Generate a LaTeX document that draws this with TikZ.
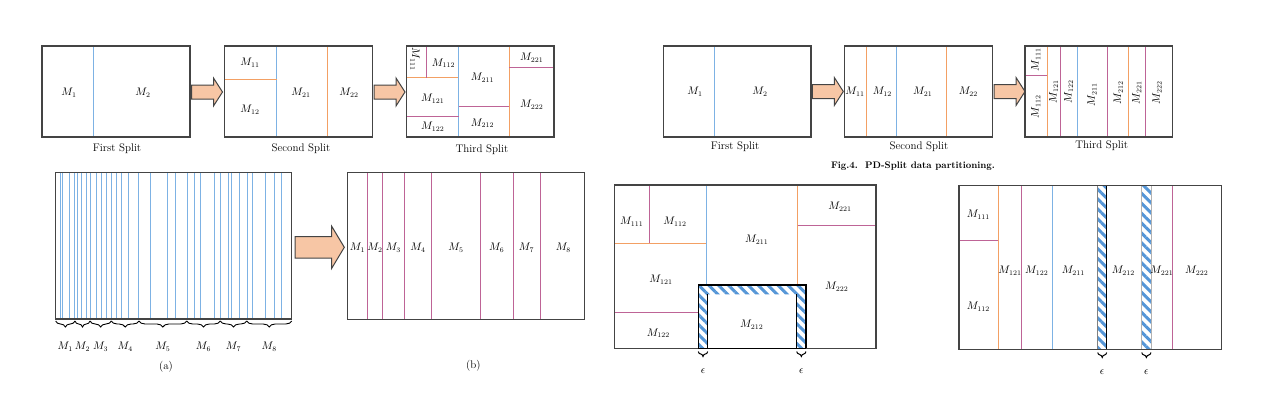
\documentclass[tikz,border=0pt]{standalone}
\usetikzlibrary{decorations.pathreplacing,patterns.meta}
\definecolor{cBlue}{RGB}{125,178,228}
\definecolor{cOrange}{RGB}{243,160,100}
\definecolor{cPink}{RGB}{190,100,150}
\definecolor{cArrow}{RGB}{247,198,165}
\definecolor{cBorder}{RGB}{68,68,68}
\definecolor{cHatch}{RGB}{85,150,215}
\tikzset{
 frame/.style={draw=cBorder, line width=1.2pt, inner sep=0pt, outer sep=0pt},
 bl/.style={draw=cBlue, line width=1pt},
 ol/.style={draw=cOrange, line width=1pt},
 pl/.style={draw=cPink, line width=1pt},
 lab/.style={inner sep=0pt, font=\fontsize{10.5}{12}\selectfont},
 splitcap/.style={inner sep=0pt, font=\fontsize{11}{13}\selectfont},
 blockarrow/.pic={\draw[fill=cArrow, draw=cBorder, line width=1pt] (0,-7)--(22,-7)--(22,-14)--(31,0)--(22,14)--(22,7)--(0,7)--cycle;},
 bigarrow/.pic={\draw[fill=cArrow, draw=cBorder, line width=1pt] (0,-10.8)--(36.7,-10.8)--(36.7,-21)--(49.3,0)--(36.7,21)--(36.7,10.8)--(0,10.8)--cycle;},
 brc/.style={decorate, decoration={brace, mirror, amplitude=6pt}, draw=black, line width=0.9pt},
 ebrc/.style={decorate, decoration={brace, mirror, amplitude=5pt}, draw=black, line width=1pt},
 hatch/.style={pattern={Lines[angle=-45,distance=7pt,line width=3pt]}, pattern color=cHatch}
}
\begin{document}
\begin{tikzpicture}[x=1pt,y=-1pt]
\useasboundingbox[fill=white] (0,0) rectangle (1281,418);

% ================= TOP LEFT =================
\draw[bl] (93.5,46) -- (93.5,137);
\node[frame, minimum width=148pt, minimum height=91pt] (tl1) at (116,91.5) {};
\node[lab] (tl1a) at (69,93) {$M_1$};
\node[lab] (tl1b) at (143,93) {$M_2$};
\node[splitcap] (tl1c) at (117,149) {First Split};
\pic at (191.5,92) {blockarrow};
\draw[bl] (276.5,46) -- (276.5,137);
\draw[ol] (327,46) -- (327,137);
\draw[ol] (224.5,79) -- (276.5,79);
\node[frame, minimum width=148pt, minimum height=91pt] (tl2) at (298.5,91.5) {};
\node[lab] (tl2a) at (250,63) {$M_{11}$};
\node[lab] (tl2b) at (250,110) {$M_{12}$};
\node[lab] (tl2c) at (301,93) {$M_{21}$};
\node[lab] (tl2d) at (349,93) {$M_{22}$};
\node[splitcap] (tl2e) at (301,149) {Second Split};
\pic at (374,92) {blockarrow};
\draw[ol] (406.5,77.7) -- (458.7,77.7);
\draw[pl] (426.7,46) -- (426.7,77.7);
\draw[bl] (458.7,46) -- (458.7,137);
\draw[pl] (406.5,116.3) -- (458.7,116.3);
\draw[pl] (458.7,106) -- (509.3,106);
\draw[ol] (509.3,46) -- (509.3,137);
\draw[pl] (509.3,67.7) -- (554,67.7);
\node[frame, minimum width=147.5pt, minimum height=91pt] (tl3) at (480.25,91.5) {};
\node[lab, rotate=-90] (tl3a) at (415,59) {$M_{111}$};
\node[lab] (tl3b) at (443.5,63.3) {$M_{112}$};
\node[lab] (tl3c) at (482.5,77.7) {$M_{211}$};
\node[lab] (tl3d) at (531.7,57.7) {$M_{221}$};
\node[lab] (tl3e) at (432.7,99) {$M_{121}$};
\node[lab] (tl3f) at (531.7,105) {$M_{222}$};
\node[lab] (tl3g) at (482.5,123.3) {$M_{212}$};
\node[lab] (tl3h) at (432.7,127) {$M_{122}$};
\node[splitcap] (tl3i) at (482,150) {Third Split};

% ================= TOP RIGHT =================
\draw[bl] (714.5,46) -- (714.5,137);
\node[frame, minimum width=147.5pt, minimum height=91pt] (tr1) at (737.25,91.5) {};
\node[lab] (tr1a) at (695,92) {$M_1$};
\node[lab] (tr1b) at (760,92) {$M_2$};
\node[splitcap] (tr1c) at (735,147) {First Split};
\pic at (812.3,91.5) {blockarrow};
\draw[ol] (866,46) -- (866,137);
\draw[bl] (896,46) -- (896,137);
\draw[ol] (946.7,46) -- (946.7,137);
\node[frame, minimum width=147.6pt, minimum height=91pt] (tr2) at (918.5,91.5) {};
\node[lab] (tr2a) at (855,92) {$M_{11}$};
\node[lab] (tr2b) at (882.3,92) {$M_{12}$};
\node[lab] (tr2c) at (922.7,92) {$M_{21}$};
\node[lab] (tr2d) at (968.3,92) {$M_{22}$};
\node[splitcap] (tr2e) at (919,147) {Second Split};
\pic at (994,91.5) {blockarrow};
\draw[pl] (1025,75.3) -- (1047.3,75.3);
\draw[ol] (1047.3,46) -- (1047.3,137);
\draw[pl] (1060,46) -- (1060,137);
\draw[bl] (1077.7,46) -- (1077.7,137);
\draw[pl] (1107.3,46) -- (1107.3,137);
\draw[ol] (1128.3,46) -- (1128.3,137);
\draw[pl] (1145,46) -- (1145,137);
\node[frame, minimum width=147.7pt, minimum height=91pt] (tr3) at (1098.85,91.5) {};
\node[lab, rotate=90] (tr3a) at (1035.7,60) {$M_{111}$};
\node[lab, rotate=90] (tr3b) at (1035.7,107) {$M_{112}$};
\node[lab, rotate=90] (tr3c) at (1053.6,92) {$M_{121}$};
\node[lab, rotate=90] (tr3d) at (1068.6,92) {$M_{122}$};
\node[lab, rotate=90] (tr3e) at (1092,95) {$M_{211}$};
\node[lab, rotate=90] (tr3f) at (1118.3,93) {$M_{212}$};
\node[lab, rotate=90] (tr3g) at (1136.7,93) {$M_{221}$};
\node[lab, rotate=90] (tr3h) at (1157,93) {$M_{222}$};
\node[splitcap] (tr3i) at (1101.7,146) {Third Split};
\node[inner sep=0pt, font=\fontsize{9.5}{11}\selectfont\bfseries] (fig4) at (913,166) {Fig.4.\ \ PD-Split data partitioning.};

% ================= BOTTOM LEFT (a) =================
\foreach \x in {60,62.5,69.3,74.3,77.3,81,86,90.3,96.3,101.7,106.7,111.7,116.7,121.7,128,138.7,150,167.3,175.7,187.3,194,200.7,214,220.7,228.7,231.3,239.3,247,252.3,265,274.3,281.7}
  \draw[bl] (\x,172.3) -- (\x,319);
\node[frame, minimum width=236pt, minimum height=146.7pt] (pa) at (173.7,245.65) {};
\draw[brc] (55.7,321) -- (75,321);
\draw[brc] (75,321) -- (90,321);
\draw[brc] (90,321) -- (111.3,321);
\draw[brc] (111.3,321) -- (139,321);
\draw[brc] (139,321) -- (186.7,321);
\draw[brc] (186.7,321) -- (220.3,321);
\draw[brc] (220.3,321) -- (246.7,321);
\draw[brc] (246.7,321) -- (291.7,321);
\node[lab] (pa1) at (65.3,347) {$M_1$};
\node[lab] (pa2) at (82.5,347) {$M_2$};
\node[lab] (pa3) at (100.6,347) {$M_3$};
\node[lab] (pa4) at (125.2,347) {$M_4$};
\node[lab] (pa5) at (162.9,347) {$M_5$};
\node[lab] (pa6) at (203.5,347) {$M_6$};
\node[lab] (pa7) at (233.5,347) {$M_7$};
\node[lab] (pa8) at (269.2,347) {$M_8$};
\node[splitcap] (pacap) at (166,367) {(a)};
\pic at (295,247.3) {bigarrow};

% ================= (b) =================
\foreach \x in {367,382.7,404.3,431.7,480,513,540}
  \draw[pl] (\x,172.3) -- (\x,319.3);
\node[frame, minimum width=237pt, minimum height=147pt] (pb) at (465.8,245.8) {};
\node[lab] (pb1) at (357.5,248) {$M_1$};
\node[lab] (pb2) at (375,248) {$M_2$};
\node[lab] (pb3) at (393.3,248) {$M_3$};
\node[lab] (pb4) at (418,248) {$M_4$};
\node[lab] (pb5) at (456,248) {$M_5$};
\node[lab] (pb6) at (496.7,248) {$M_6$};
\node[lab] (pb7) at (526.5,248) {$M_7$};
\node[lab] (pb8) at (563.3,248) {$M_8$};
\node[splitcap] (pbcap) at (473.3,366) {(b)};

% ================= BOTTOM MIDDLE =================
\draw[pl] (649.3,185) -- (649.3,243.3);
\draw[ol] (614.3,243.3) -- (706.7,243.3);
\draw[bl] (706.7,185) -- (706.7,285);
\draw[pl] (614.3,312.3) -- (698.3,312.3);
\draw[ol] (797.7,185) -- (797.7,285);
\draw[pl] (797.7,225.7) -- (876,225.7);
\fill[hatch] (698.3,348.3) -- (698.3,285) -- (806,285) -- (806,348.3) -- (796.7,348.3) -- (796.7,294.3) -- (707.7,294.3) -- (707.7,348.3) -- cycle;
\node[frame, minimum width=261.7pt, minimum height=163.3pt] (pc) at (745.15,266.65) {};
\draw[black, line width=1.2pt] (698.3,348.3) -- (698.3,285) -- (806,285) -- (806,348.3);
\draw[black, line width=1.2pt] (707.7,294.3) -- (707.7,348.3);
\draw[black, line width=1.2pt] (796.7,294.3) -- (796.7,348.3);
\draw[black, line width=1.6pt] (698.3,348.3) -- (806,348.3);
\node[lab] (pc1) at (631.7,221.7) {$M_{111}$};
\node[lab] (pc2) at (675,221.7) {$M_{112}$};
\node[lab] (pc3) at (756.7,240) {$M_{211}$};
\node[lab] (pc4) at (840,206.7) {$M_{221}$};
\node[lab] (pc5) at (661,280) {$M_{121}$};
\node[lab] (pc6) at (836.7,286.7) {$M_{222}$};
\node[lab] (pc7) at (751.7,325) {$M_{212}$};
\node[lab] (pc8) at (658.3,333.3) {$M_{122}$};
\draw[ebrc] (698.3,351.5) -- (707.7,351.5);
\draw[ebrc] (796.7,351.5) -- (806,351.5);
\node[lab] (pce1) at (703,371) {$\epsilon$};
\node[lab] (pce2) at (801.3,371) {$\epsilon$};

% ================= BOTTOM RIGHT =================
\draw[pl] (959,240) -- (998.3,240);
\draw[ol] (998.3,185.7) -- (998.3,349.3);
\draw[pl] (1021,185.7) -- (1021,349.3);
\draw[bl] (1052,185.7) -- (1052,349.3);
\draw[pl] (1172.7,185.7) -- (1172.7,349.3);
\fill[hatch] (1097.7,185.7) rectangle (1106.7,349.3);
\fill[hatch] (1141.7,185.7) rectangle (1151,349.3);
\draw[gray, line width=0.6pt] (1097.7,185.7) -- (1097.7,349.3);
\draw[black, line width=1.2pt] (1106.7,185.7) -- (1106.7,349.3);
\draw[gray!60, line width=0.6pt] (1141.7,185.7) -- (1141.7,349.3);
\draw[gray!60, line width=0.6pt] (1151,185.7) -- (1151,349.3);
\node[frame, minimum width=262.7pt, minimum height=163.6pt] (pd) at (1090.35,267.5) {};
\node[lab] (pd1) at (978.3,215) {$M_{111}$};
\node[lab] (pd2) at (978.3,306.7) {$M_{112}$};
\node[lab] (pd3) at (1010,270.7) {$M_{121}$};
\node[lab] (pd4) at (1036.7,270.7) {$M_{122}$};
\node[lab] (pd5) at (1073.3,270.7) {$M_{211}$};
\node[lab] (pd6) at (1123.3,270.7) {$M_{212}$};
\node[lab] (pd7) at (1161.7,270.7) {$M_{221}$};
\node[lab] (pd8) at (1196.7,270.7) {$M_{222}$};
\draw[ebrc] (1097.7,352.5) -- (1106.7,352.5);
\draw[ebrc] (1141.7,352.5) -- (1151,352.5);
\node[lab] (pde1) at (1102.2,372) {$\epsilon$};
\node[lab] (pde2) at (1146.3,372) {$\epsilon$};
\end{tikzpicture}
\end{document}
